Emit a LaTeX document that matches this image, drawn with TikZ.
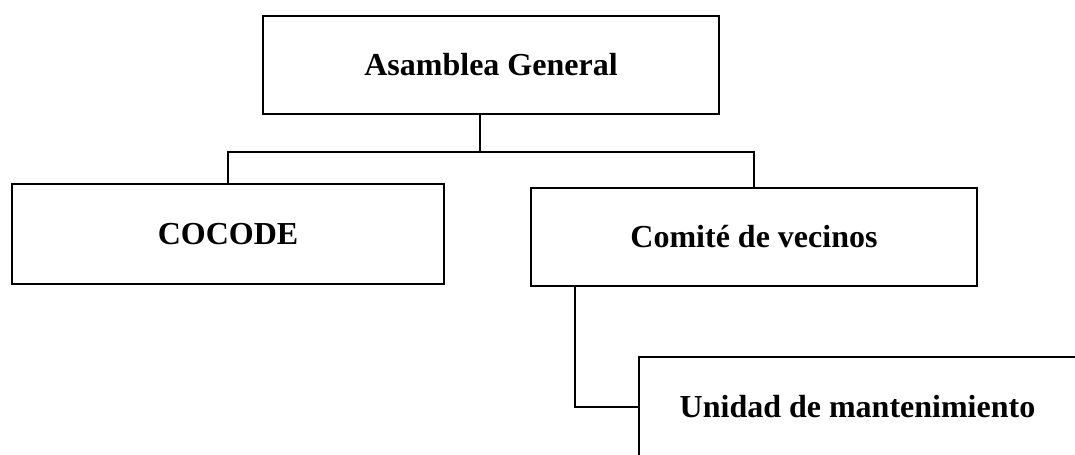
\documentclass[tikz,border=0pt]{standalone}
\usepackage{fontspec}
\setmainfont{Liberation Serif}
\usepackage{tikz}
\usetikzlibrary{calc}

\begin{document}
\begin{tikzpicture}[x=0.75pt,y=0.75pt,yscale=-1,xscale=1,
    unitbox/.style={draw,line width=1.8pt,inner sep=0.75pt,font=\bfseries\fontsize{24}{28}\selectfont},
    link/.style={line width=1.8pt,line join=miter}]
%set diagram to the size of the page
\useasboundingbox (0,0) rectangle (1075,454);
\clip (0,0) rectangle (1075,454);

% Boxes
\node [unitbox,minimum width=342pt,minimum height=73.5pt] (asamblea) at (491,65) {Asamblea General};
\node [unitbox,minimum width=324pt,minimum height=75pt] (cocode) at (228,234) {COCODE};
\node [unitbox,minimum width=334.5pt,minimum height=73.5pt] (comite) at (754,237) {Comité de vecinos};
%bottom box runs past the edge of the page
\node [unitbox,minimum width=327.75pt,minimum height=75pt] (unidad) at (857.5,407) {Unidad de mantenimiento};

% Connectors
\coordinate (bus) at (480,152);
\coordinate (drop) at (575,406);
\draw [link] (bus |- asamblea.south) -- (bus);
\draw [link] (cocode.north) |- (bus) -| (comite.north);
\draw [link] (drop |- comite.south) |- (unidad.west);

\end{tikzpicture}
\end{document}
